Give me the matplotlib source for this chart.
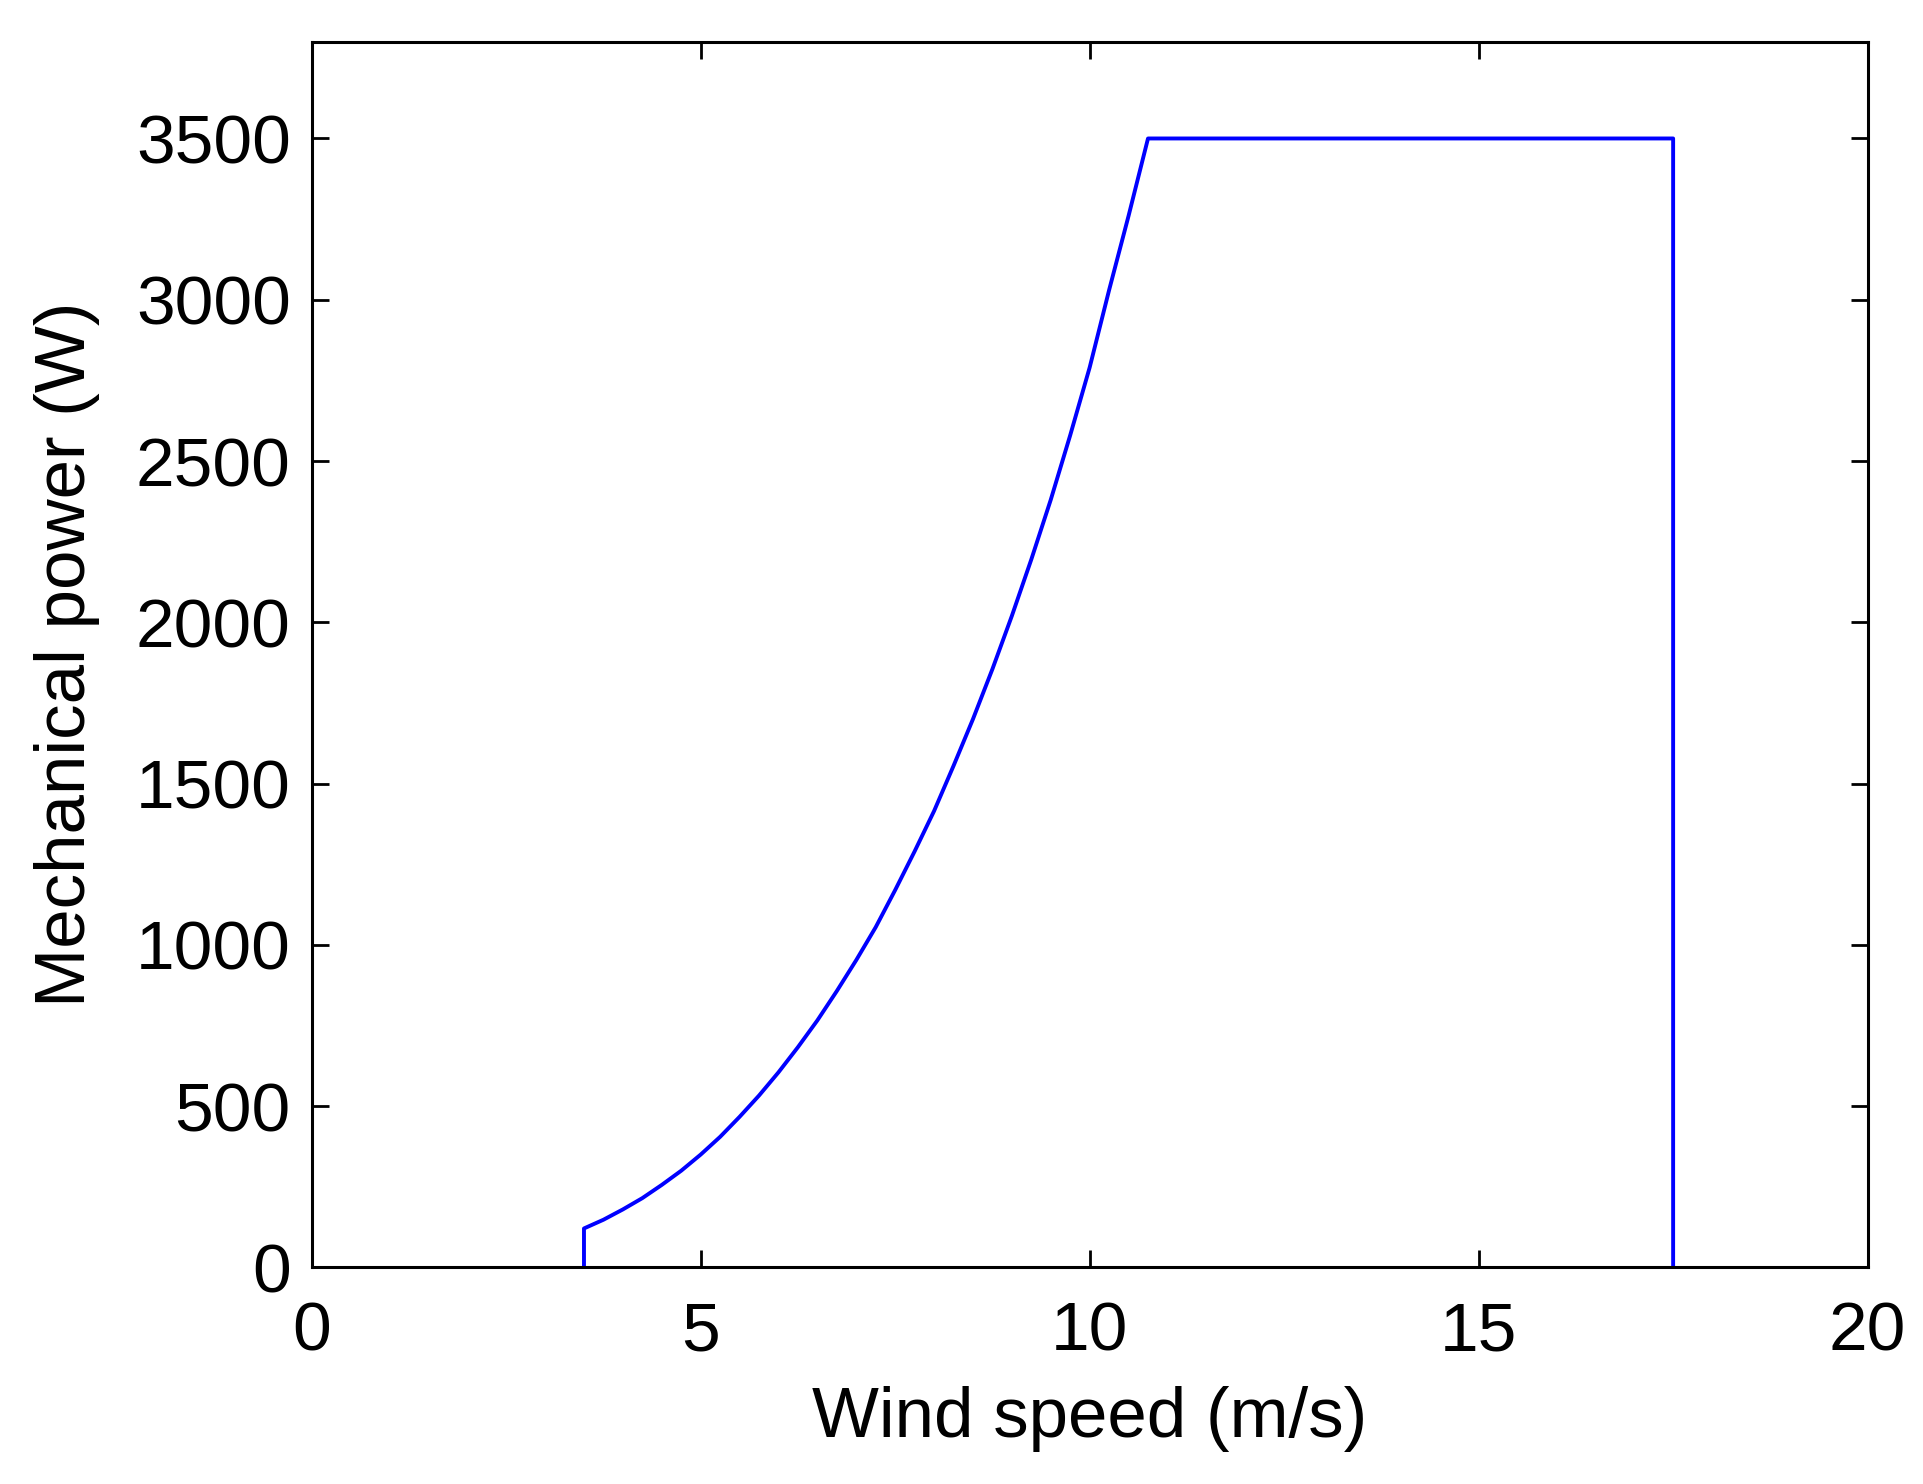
#!/usr/bin/env python3

"""Mechanical power curve of a small wind turbine."""

import matplotlib
matplotlib.use('Agg')
import matplotlib.pyplot as plt

# Values.
wind_speed = [3.5, 3.5, 3.75, 4.0, 4.25, 4.5, 4.75, 5.0, 5.25, 5.5,
              5.75, 6.0, 6.25, 6.5, 6.75, 7.0, 7.25, 7.5, 7.75, 8.0, 8.25,
              8.5, 8.75, 9.0, 9.25, 9.5, 9.75, 10.0, 10.25, 10.5, 10.75,
              17.5, 17.5, 17.5]
mech_power = [0, 121, 148, 180, 215, 256, 300, 350, 405, 467,
              533, 605, 683, 766, 857, 953, 1055, 1170, 1290, 1415, 1555,
              1700, 1855, 2020, 2195, 2380, 2580, 2790, 3030, 3260, 3500,
              3500, 1750, 0]

x_ticks = [0, 5, 10, 15, 20]
y_ticks = [0, 500, 1000, 1500, 2000, 2500, 3000, 3500]

plt.rcParams['font.family'] = ['Liberation Sans', 'DejaVu Sans']

fig = plt.figure(figsize=(19.24, 14.84), dpi=100)
ax = fig.add_axes([0.162, 0.1459, 0.8087, 0.826])

ax.plot(wind_speed, mech_power, color='#0000ff', linewidth=2.8)

ax.set_xlim(0, 20)
ax.set_ylim(0, 3800)
ax.set_xticks(x_ticks)
ax.set_yticks(y_ticks)

ax.tick_params(direction='in', length=12, width=2, labelsize=50,
               top=True, right=True)
ax.tick_params(axis='x', pad=24)
ax.tick_params(axis='y', pad=15)
for s in ax.spines.values():
    s.set_linewidth(2.2)

ax.set_xlabel('Wind speed (m/s)', fontsize=51, labelpad=15)
ax.set_ylabel('Mechanical power (W)', fontsize=51, labelpad=26)

fig.savefig('out.png', dpi=100, facecolor='white')
